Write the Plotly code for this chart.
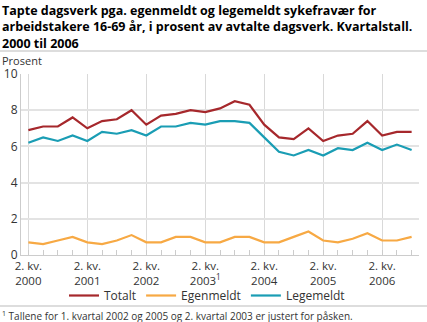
import plotly.graph_objects as go

# Data: quarters 2000 Q2 .. 2006 Q4
quarters = [f"{q}. kv. {y}" for y in range(2000, 2007) for q in range(1, 5)][1:]
totalt = [6.9, 7.1, 7.1, 7.6, 7.0, 7.4, 7.5, 8.0, 7.2, 7.7, 7.8, 8.0, 7.9,
          8.1, 8.5, 8.3, 7.2, 6.5, 6.4, 7.0, 6.3, 6.6, 6.7, 7.4, 6.6, 6.8, 6.8]
egenmeldt = [0.7, 0.6, 0.8, 1.0, 0.7, 0.6, 0.8, 1.1, 0.7, 0.7, 1.0, 1.0, 0.7,
             0.7, 1.0, 1.0, 0.7, 0.7, 1.0, 1.3, 0.8, 0.7, 0.9, 1.2, 0.8, 0.8, 1.0]
legemeldt = [6.2, 6.5, 6.3, 6.6, 6.3, 6.8, 6.7, 6.9, 6.6, 7.1, 7.1, 7.3, 7.2,
             7.4, 7.4, 7.3, 6.5, 5.7, 5.5, 5.8, 5.5, 5.9, 5.8, 6.2, 5.8, 6.1, 5.8]
tick_labels = ["2. kv.<br>2000", "2. kv.<br>2001", "2. kv.<br>2002",
               "2. kv.<br>2003<sup>1</sup>", "2. kv.<br>2004", "2. kv.<br>2005",
               "2. kv.<br>2006"]
y_ticks = [0, 2, 4, 6, 8, 10]

series_names = ["Totalt", "Egenmeldt", "Legemeldt"]
colors = ["#a6282c", "#f7a944", "#1a9db4"]

W, H = 427, 322
ML, MR, MT, MB = 21, 8, 74, 67
pw = W - ML - MR
ph = H - MT - MB

def px_x(p):
    return (p - ML) / pw

def px_y(p):
    return (H - MB - p) / ph

idx = list(range(len(quarters)))
major_idx = [i for i, q in enumerate(quarters) if q.startswith("2. kv.")]

fig = go.Figure()
for name, vals, col in zip(series_names, [totalt, egenmeldt, legemeldt], colors):
    fig.add_trace(go.Scatter(x=idx, y=vals, mode="lines", name=name,
                             line=dict(color=col, width=2.2),
                             hovertext=quarters))

font_family = "Open Sans, Liberation Sans, sans-serif"
fig.update_layout(
    width=W, height=H,
    margin=dict(l=ML, r=MR, t=MT, b=MB, autoexpand=False),
    paper_bgcolor="white", plot_bgcolor="white",
    font=dict(family=font_family, color="#333333", size=12),
    showlegend=True,
    legend=dict(orientation="h",
                xref="container", x=207 / W, xanchor="center",
                yref="container", y=1 - 310 / H, yanchor="bottom",
                bgcolor="rgba(0,0,0,0)",
                font=dict(size=12, color="#333333"),
                itemwidth=30, tracegroupgap=0),
    xaxis=dict(range=[-0.5, len(quarters) - 0.5],
               tickmode="array", tickvals=major_idx, ticktext=tick_labels,
               ticks="", showgrid=True, gridcolor="#d9d9d9", gridwidth=1,
               showline=True, linecolor="#cccccc", linewidth=1,
               zeroline=False,
               tickfont=dict(size=11.5, color="#333333"),
               minor=dict(tickvals=idx, ticks="inside", ticklen=5,
                          tickcolor="#cccccc", showgrid=False),
               fixedrange=True),
    yaxis=dict(range=[0, 10], tickvals=y_ticks,
               showgrid=True, gridcolor="#e3e3e3", gridwidth=1.5,
               showline=True, linecolor="#cccccc", linewidth=1,
               zeroline=False, ticks="",
               tickfont=dict(size=12, color="#333333"),
               fixedrange=True),
)

# Title
fig.add_annotation(
    text="<b>Tapte dagsverk pga. egenmeldt og legemeldt sykefravær for<br>"
         "arbeidstakere 16-69 år, i prosent av avtalte dagsverk. Kvartalstall.<br>"
         "2000 til 2006</b>",
    xref="paper", yref="paper", x=px_x(0), y=px_y(0),
    xanchor="left", yanchor="top", align="left", showarrow=False,
    font=dict(size=12.5, color="#000000", family=font_family))

fig.add_annotation(text="Prosent", xref="paper", yref="paper",
                   x=px_x(0), y=px_y(70), xanchor="left", yanchor="bottom",
                   showarrow=False, font=dict(size=11, color="#333333"))

fig.add_annotation(
    text="<sup>1</sup> Tallene for 1. kvartal 2002 og 2005 og 2. kvartal 2003 er justert for påsken.",
    xref="paper", yref="paper", x=px_x(0), y=px_y(307),
    xanchor="left", yanchor="top", showarrow=False,
    font=dict(size=10, color="#333333"))

# Separator lines
for yp in (51, 306):
    fig.add_shape(type="line", xref="paper", yref="paper",
                  x0=px_x(0), x1=px_x(W), y0=px_y(yp), y1=px_y(yp),
                  line=dict(color="#bbbbbb", width=1))

fig.write_html("out.html")
